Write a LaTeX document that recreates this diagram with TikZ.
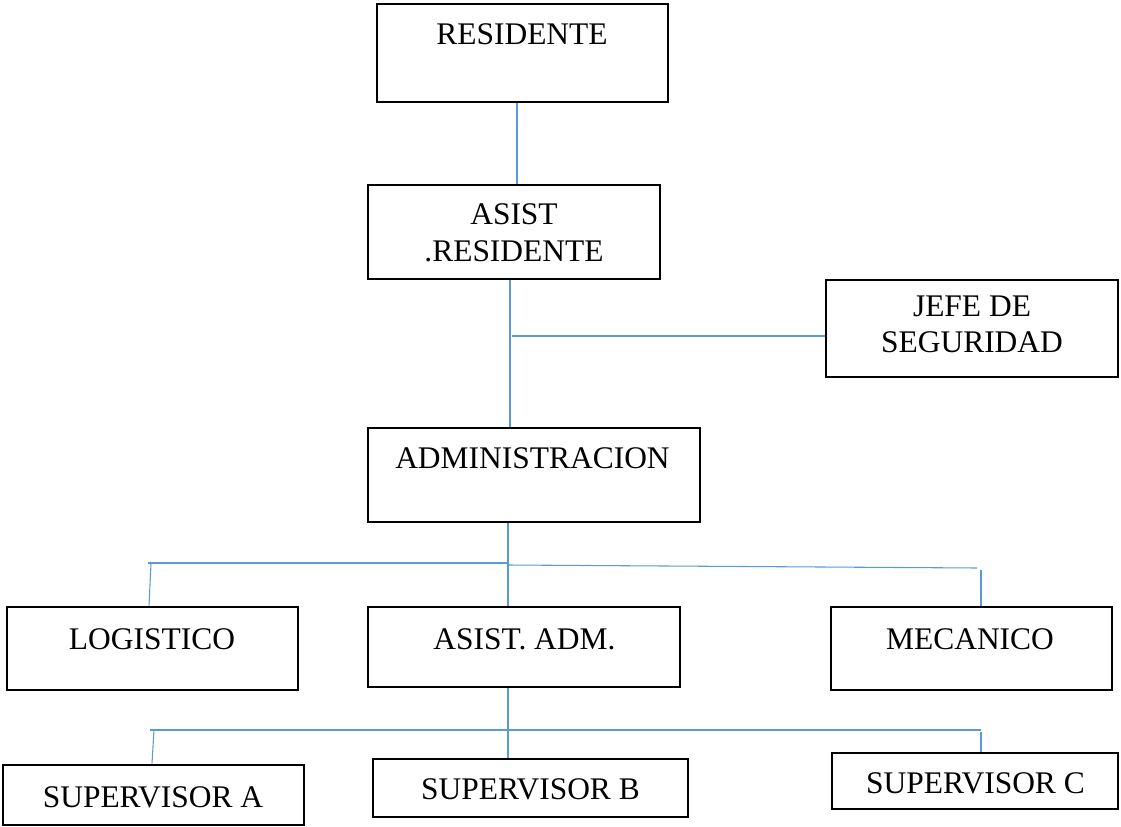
\documentclass[tikz,border=0pt]{standalone}
\usepackage{fontspec}
\setmainfont{Liberation Serif}
\newdimen\pxu \pxu=0.75pt
\definecolor{connblue}{RGB}{91,155,213}
\tikzset{
  box/.style={draw=black, line width=2.2pt, rectangle, inner sep=0pt, fill=none},
  lbl/.style={inner sep=0pt, anchor=base, font=\fontsize{23.6pt}{28pt}\selectfont},
  conn/.style={draw=connblue, line width=0.8pt}
}
\begin{document}
\begin{tikzpicture}[x=0.75pt, y=-0.75pt]
\useasboundingbox (0,0) rectangle (1121,827);
% boxes
\node[box, minimum width=291\pxu, minimum height=98\pxu] (res) at (522.5,53) {};
\node[box, minimum width=292\pxu, minimum height=94\pxu] (asr) at (514,232) {};
\node[box, minimum width=292\pxu, minimum height=97\pxu] (jefe) at (972,328.5) {};
\node[box, minimum width=332\pxu, minimum height=94\pxu] (adm) at (534,475) {};
\node[box, minimum width=291\pxu, minimum height=83\pxu] (log) at (152.5,648.5) {};
\node[box, minimum width=312\pxu, minimum height=80\pxu] (aad) at (524,647) {};
\node[box, minimum width=281\pxu, minimum height=83\pxu] (mec) at (971.5,648.5) {};
\node[box, minimum width=301\pxu, minimum height=60\pxu] (supa) at (153.5,795) {};
\node[box, minimum width=315\pxu, minimum height=58\pxu] (supb) at (530.5,788) {};
\node[box, minimum width=286\pxu, minimum height=56\pxu] (supc) at (975,781) {};
% labels
\node[lbl] (tres) at (522,45) {RESIDENTE};
\node[lbl] (tasr1) at (514,225) {ASIST};
\node[lbl] (tasr2) at (514,262) {.RESIDENTE};
\node[lbl] (tjefe1) at (972,317) {JEFE DE};
\node[lbl] (tjefe2) at (972,353) {SEGURIDAD};
\node[lbl, anchor=base west] (tadm) at (395,468) {ADMINISTRACION};
\node[lbl] (tlog) at (152,649) {LOGISTICO};
\node[lbl] (taad) at (524.5,649) {ASIST. ADM.};
\node[lbl] (tmec) at (970,649) {MECANICO};
\node[lbl] (tsupa) at (153,807) {SUPERVISOR A};
\node[lbl] (tsupb) at (530.5,799) {SUPERVISOR B};
\node[lbl] (tsupc) at (975.5,793) {SUPERVISOR C};
% junction coordinates
\coordinate (j1) at (512,336);
\coordinate (h1l) at (148,563);
\coordinate (h1m) at (508,563);
\coordinate (h1m2) at (508,565);
\coordinate (h1r) at (977,568);
\coordinate (d1l) at (151,564);
\coordinate (d1r) at (981,570);
\coordinate (h2l) at (150,730);
\coordinate (h2r) at (981,730);
\coordinate (d2l) at (154,730);
\coordinate (d2r) at (981,732);
% connectors
\draw[conn] (res.south -| 517,0) -- (asr.north -| 517,0);
\draw[conn] (asr.south -| 510,0) -- (adm.north -| 510,0);
\draw[conn] (j1) -- (jefe.west |- j1);
\draw[conn] (adm.south -| 508,0) -- (aad.north -| 508,0);
\draw[conn] (h1l) -- (h1m);
\draw[conn] (h1m2) -- (h1r);
\draw[conn] (d1l) -- (log.north -| 149,0);
\draw[conn] (d1r) -- (mec.north -| d1r);
\draw[conn] (aad.south -| 508,0) -- (supb.north -| 508,0);
\draw[conn] (h2l) -- (h2r);
\draw[conn] (d2l) -- (supa.north -| 152,0);
\draw[conn] (d2r) -- (supc.north -| d2r);
\end{tikzpicture}
\end{document}
